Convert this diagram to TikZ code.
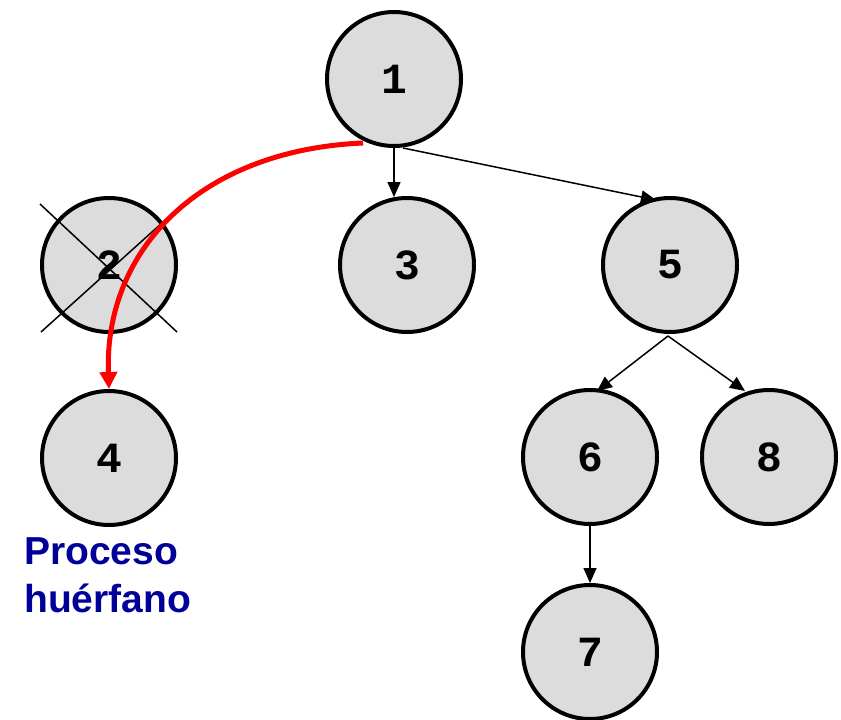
\documentclass[tikz,border=0pt]{standalone}
\usepackage{fontspec}
\setmainfont{Liberation Sans}
\newfontfamily\numfont{Liberation Mono}
\usetikzlibrary{arrows.meta}
\definecolor{nodegray}{RGB}{220,220,220}
\definecolor{labelblue}{RGB}{0,0,153}
\definecolor{arrowred}{RGB}{255,0,0}
\begin{document}
\begin{tikzpicture}[x=1pt,y=-1pt,
  proc/.style={circle,draw=black,line width=4pt,fill=nodegray,minimum size=134pt,inner sep=0pt,font=\numfont\bfseries\fontsize{43}{43}\selectfont},
  edge/.style={line width=1.5pt,-{Triangle[length=15pt,width=13pt]}},
  cross/.style={line width=1.5pt}]
\useasboundingbox (0,0) rectangle (841,720);
\node[proc] (n1) at (394,79) {1};
\node[proc] (n2) at (109,265) {2};
\node[proc] (n3) at (407,265) {3};
\node[proc] (n5) at (670,265) {5};
\node[proc] (n4) at (109,458) {4};
\node[proc] (n6) at (590,457) {6};
\node[proc] (n8) at (769,457) {8};
\node[proc] (n7) at (590,652) {7};
% cross over node 2
\draw[cross] (n2.center) ++(-69,-61) coordinate (c1) -- ++(137,128) coordinate (c2);
\draw[cross] (n2.center) ++(74,-61) coordinate (c3) -- ++(-142,128) coordinate (c4);
% edges
\coordinate (s13) at (394,148);
\coordinate (e13) at (394,197);
\draw[edge] (s13) -- (e13);
\coordinate (s15) at (403,148);
\coordinate (e15) at (656,200);
\draw[edge] (s15) -- (e15);
\coordinate (s5) at (668,336);
\coordinate (e56) at (597,391);
\coordinate (e58) at (745,391);
\draw[edge] (s5) -- (e56);
\draw[edge] (s5) -- (e58);
\draw[edge] (n6.south) -- (n7.north);
% red orphan arrow
\coordinate (rs) at (363,143);
\draw[arrowred,line width=5pt,-{Triangle[length=17pt,width=17pt]}] (rs) .. controls (200,150) and (104,250) .. (n4.north);
% label
\node[anchor=north west,align=left,text=labelblue,font=\bfseries\fontsize{39}{48}\selectfont,inner sep=0pt] (lbl) at (24,537) {Proceso\\hu\'erfano};
\end{tikzpicture}
\end{document}
